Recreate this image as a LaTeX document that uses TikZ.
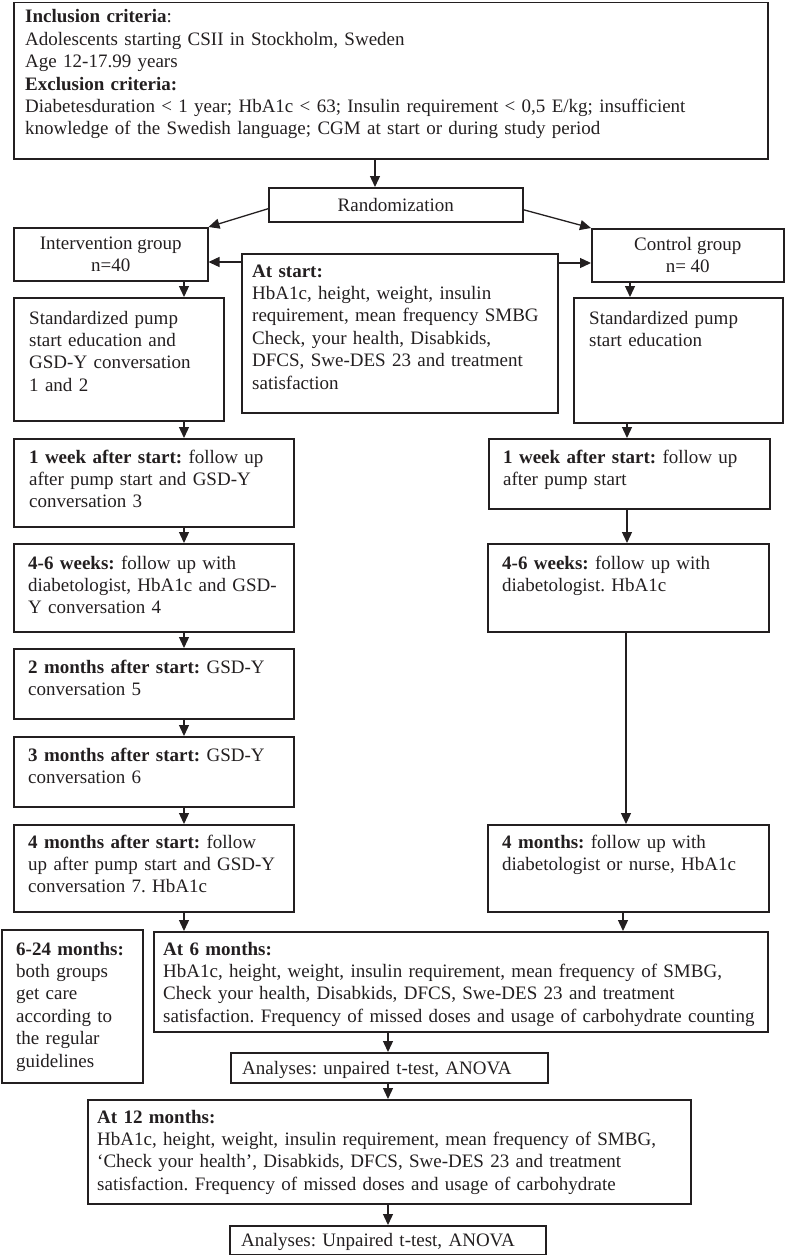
\documentclass[tikz,border=0pt]{standalone}
\usepackage{fontspec}
\setmainfont{Liberation Serif}
\usetikzlibrary{arrows.meta,calc}
\definecolor{ink}{HTML}{231F20}
\frenchspacing
\hyphenpenalty=10000
\exhyphenpenalty=10000
\tikzset{
  bx/.style={draw=ink, line width=1.5pt, inner sep=0pt, anchor=north west},
  cbx/.style={draw=ink, line width=1.5pt, inner sep=0pt, align=center, text=ink,
    font=\fontsize{19}{22.4}\selectfont},
  tx/.style={anchor=base west, inner sep=0pt, align=left, text=ink,
    font=\fontsize{19}{22.4}\selectfont},
  arr/.style={draw=ink, line width=1.3pt, -{Triangle[length=11pt,width=10pt]}}
}
\begin{document}
\begin{tikzpicture}[x=1pt,y=-1pt]
\useasboundingbox (0,0) rectangle (785,1255);

% boxes
\node[bx, minimum width=754pt, minimum height=156pt] (top) at (13,2) {};
\node[cbx, anchor=north west, minimum width=254pt, minimum height=34pt] (rand) at (268,187) {Randomization};
\node[cbx, anchor=north west, minimum width=194pt, minimum height=53pt] (interv) at (13,227) {Intervention group\\n=40};
\node[cbx, anchor=north west, minimum width=192pt, minimum height=53pt] (ctrl) at (591,228) {Control group\\n= 40};
\node[bx, minimum width=316pt, minimum height=159pt] (atstart) at (241,253) {};
\node[bx, minimum width=210pt, minimum height=123pt] (stdL) at (13,297) {};
\node[bx, minimum width=209pt, minimum height=125pt] (stdR) at (573,297) {};
\node[bx, minimum width=280pt, minimum height=88pt] (wkL) at (13,438) {};
\node[bx, minimum width=281pt, minimum height=70pt] (wkR) at (488,438) {};
\node[bx, minimum width=280pt, minimum height=88pt] (wsL) at (13,543) {};
\node[bx, minimum width=281pt, minimum height=88pt] (wsR) at (487,543) {};
\node[bx, minimum width=280pt, minimum height=70pt] (mtwo) at (13,648) {};
\node[bx, minimum width=280pt, minimum height=70pt] (mthree) at (13,736) {};
\node[bx, minimum width=280pt, minimum height=87pt] (mfourL) at (13,824) {};
\node[bx, minimum width=281pt, minimum height=87pt] (mfourR) at (487,824) {};
\node[bx, minimum width=141pt, minimum height=153pt] (mlong) at (1,929) {};
\node[bx, minimum width=614pt, minimum height=100pt] (msix) at (153,931) {};
\node[bx, minimum width=317pt, minimum height=30pt] (anone) at (230,1052) {};
\node[bx, minimum width=603pt, minimum height=104pt] (mtwelve) at (87,1099) {};
\node[bx, minimum width=316pt, minimum height=29pt] (antwo) at (229,1225) {};

% texts
\node[tx, text width=735pt] (ttop) at (25,23) {\textbf{Inclusion criteria}:\\
Adolescents starting CSII in Stockholm, Sweden\\
Age 12-17.99 years\\
\textbf{Exclusion criteria:}\\
Diabetesduration < 1 year; HbA1c < 63; Insulin requirement < 0,5 E/kg; insufficient\\
knowledge of the Swedish language; CGM at start or during study period};
\node[tx, text width=300pt] (tatstart) at (252,277) {\textbf{At start:}\\
HbA1c, height, weight, insulin\\
requirement, mean frequency SMBG\\
Check, your health, Disabkids,\\
DFCS, Swe-DES 23 and treatment\\
satisfaction};
\node[tx, text width=192pt] (tstdL) at (29,324) {Standardized pump\\start education and\\GSD-Y conversation\\1 and 2};
\node[tx, text width=190pt] (tstdR) at (589,324) {Standardized pump\\start education};
\node[tx, text width=262pt] (twkL) at (29,463) {\textbf{1 week after start:} follow up\\after pump start and GSD-Y\\conversation 3};
\node[tx, text width=264pt] (twkR) at (503,463) {\textbf{1 week after start:} follow up\\after pump start};
\node[tx, text width=264pt] (twsL) at (28,569) {\textbf{4-6 weeks:} follow up with\\diabetologist, HbA1c and GSD-\\Y conversation 4};
\node[tx, text width=264pt] (twsR) at (502,569) {\textbf{4-6 weeks:} follow up with\\diabetologist. HbA1c};
\node[tx, text width=264pt] (tmtwo) at (28,673) {\textbf{2 months after start:} GSD-Y\\conversation 5};
\node[tx, text width=264pt] (tmthree) at (28,761) {\textbf{3 months after start:} GSD-Y\\conversation 6};
\node[tx, text width=264pt] (tmfourL) at (28,848) {\textbf{4 months after start:} follow\\up after pump start and GSD-Y\\conversation 7. HbA1c};
\node[tx, text width=264pt] (tmfourR) at (502,848) {\textbf{4 months:} follow up with\\diabetologist or nurse, HbA1c};
\node[tx, text width=124pt] (tmlong) at (16,955) {\textbf{6-24 months:}\\both groups\\get care\\according to\\the regular\\guidelines};
\node[tx, text width=602pt] (tmsix) at (163,955) {\textbf{At 6 months:}\\
HbA1c, height, weight, insulin requirement, mean frequency of SMBG,\\
Check your health, Disabkids, DFCS, Swe-DES 23 and treatment\\
satisfaction. Frequency of missed doses and usage of carbohydrate counting};
\node[tx, text width=303pt] (tanone) at (242,1074) {Analyses: unpaired t-test, ANOVA};
\node[tx, text width=591pt] (tmtwelve) at (97,1123) {\textbf{At 12 months:}\\
HbA1c, height, weight, insulin requirement, mean frequency of SMBG,\\
‘Check your health’, Disabkids, DFCS, Swe-DES 23 and treatment\\
satisfaction. Frequency of missed doses and usage of carbohydrate};
\node[tx, text width=302pt] (tantwo) at (241,1246) {Analyses: Unpaired t-test, ANOVA};

% column coordinates
\coordinate (xa) at (375,0);
\coordinate (cL) at (184,0);
\coordinate (cRa) at (630,0);
\coordinate (cRb) at (627,0);
\coordinate (cRc) at (626,0);
\coordinate (cRd) at (623,0);
\coordinate (cM) at (388,0);

% connectors
\draw[arr] (top.south -| xa) -- (rand.north -| xa);
\draw[arr] ([yshift=-4pt]rand.west) -- (interv.north east);
\draw[arr] ([yshift=-5pt]rand.east) -- (ctrl.north west);
\draw[arr] ([yshift=-9pt]atstart.north west) -- ([yshift=-9pt]atstart.north west -| interv.east);
\draw[arr] ([yshift=-10pt]atstart.north east) -- ([yshift=-10pt]atstart.north east -| ctrl.west);
\draw[arr] (interv.south -| cL) -- (stdL.north -| cL);
\draw[arr] (stdL.south -| cL) -- (wkL.north -| cL);
\draw[arr] (wkL.south -| cL) -- (wsL.north -| cL);
\draw[arr] (wsL.south -| cL) -- (mtwo.north -| cL);
\draw[arr] (mtwo.south -| cL) -- (mthree.north -| cL);
\draw[arr] (mthree.south -| cL) -- (mfourL.north -| cL);
\draw[arr] (mfourL.south -| cL) -- (msix.north -| cL);
\draw[arr] (ctrl.south -| cRa) -- (stdR.north -| cRa);
\draw[arr] (stdR.south -| cRb) -- (wkR.north -| cRb);
\draw[arr] (wkR.south -| cRb) -- (wsR.north -| cRb);
\draw[arr] (wsR.south -| cRc) -- (mfourR.north -| cRc);
\draw[arr] (mfourR.south -| cRd) -- (msix.north -| cRd);
\draw[arr] (msix.south -| cM) -- (anone.north -| cM);
\draw[arr] (anone.south -| cM) -- (mtwelve.north -| cM);
\draw[arr] (mtwelve.south -| cM) -- (antwo.north -| cM);
\end{tikzpicture}
\end{document}
